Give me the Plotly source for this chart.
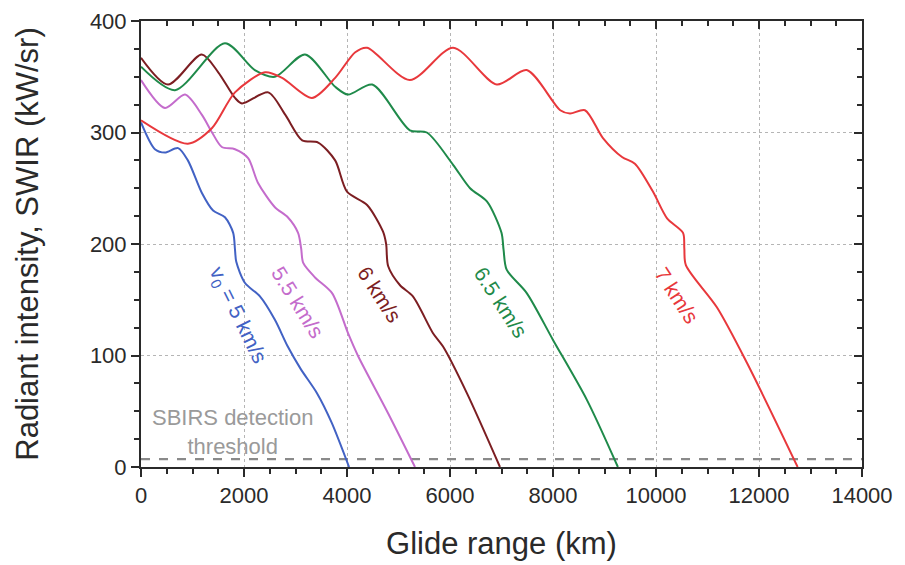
import plotly.graph_objects as go

# ---- data ----
x_5 = [0, 270, 465, 720, 910, 1180, 1400, 1630, 1790, 1825, 1850, 2020, 2310, 2600, 2850, 3100, 3420, 3700, 4040]
y_5 = [309, 285, 282, 286, 275, 246, 230, 224, 210, 195, 184, 165, 153, 132, 108, 88, 66, 40, 0]

x_55 = [0, 465, 855, 1180, 1380, 1570, 1825, 2080, 2270, 2600, 2850, 3050, 3110, 3150, 3380, 3710, 4020, 4210, 4800, 5320]
y_55 = [347, 322, 334, 316, 300, 287, 285, 277, 255, 233, 224, 210, 196, 183, 170, 156, 120, 100, 48, 0]

x_6 = [0, 525, 1180, 1500, 1825, 1960, 2470, 2800, 3130, 3440, 3770, 4000, 4390, 4700, 4760, 4800, 5030, 5280, 5670, 5865, 6330, 6970]
y_6 = [367, 343, 370, 354, 331, 326, 336, 316, 293, 291, 275, 247, 235, 211, 200, 180, 163, 153, 120, 108, 66, 0]

x_65 = [0, 660, 1630, 2210, 2600, 3185, 3770, 4020, 4490, 5220, 5550, 6060, 6390, 6720, 7000, 7040, 7100, 7490, 8000, 8660, 9260]
y_65 = [359, 338, 380, 356, 350, 370, 341, 334, 343, 302, 300, 271, 250, 238, 210, 195, 177, 156, 114, 60, 0]

x_7 = [0, 910, 1380, 1825, 2410, 2740, 3320, 3770, 4160, 4390, 5220, 6060, 6910, 7490, 8140, 8330, 8620, 8970, 9340, 9590, 9940, 10215, 10525, 10550, 10580, 11185, 11770, 12750]
y_7 = [311, 290, 304, 336, 354, 349, 331, 349, 372, 376, 347, 376, 343, 356, 320, 317, 320, 295, 278, 272, 247, 223, 210, 196, 181, 143, 93, 0]

threshold_x = [0, 14000]
threshold_y = [7, 7]

series = [
    ("v<sub>0</sub> = 5 km/s", x_5, y_5, "#4262c4", 1864, 136, 64),
    ("5.5 km/s", x_55, y_55, "#c46ccc", 3030, 148, 58),
    ("6 km/s", x_6, y_6, "#7c1e22", 4641, 155, 57),
    ("6.5 km/s", x_65, y_65, "#1f8a4a", 6972, 148, 57),
    ("7 km/s", x_7, y_7, "#e8383c", 10409, 154, 57),
]

FONT = "Liberation Sans, Arial"

fig = go.Figure()

fig.add_trace(go.Scatter(x=threshold_x, y=threshold_y, mode="lines",
                         line=dict(color="#8a8a8a", width=2.2, dash="dash"),
                         showlegend=False, hoverinfo="skip"))

for name, xs, ys, col, lx, ly, ang in series:
    fig.add_trace(go.Scatter(x=xs, y=ys, mode="lines", name=name,
                             line=dict(color=col, width=2, shape="spline", smoothing=0.8),
                             showlegend=False))
    fig.add_annotation(x=lx, y=ly, text=name, showarrow=False, textangle=ang,
                       font=dict(family=FONT, size=21, color=col))

fig.add_annotation(x=1767, y=31, text="SBIRS detection<br>threshold", showarrow=False,
                   font=dict(family=FONT, size=22, color="#9a9a9a"))

# dummy trace for mirrored axes
fig.add_trace(go.Scatter(x=[None], y=[None], xaxis="x2", yaxis="y2",
                         showlegend=False, hoverinfo="skip"))

axcol = "#2a2a2a"
common = dict(showline=True, linewidth=2, linecolor=axcol, zeroline=False,
              tickcolor=axcol, tickwidth=1.5, automargin=False,
              tickfont=dict(family=FONT, size=22, color=axcol))

fig.update_layout(
    width=905, height=565,
    margin=dict(l=141, r=43, t=21, b=98),
    plot_bgcolor="white", paper_bgcolor="white",
    xaxis=dict(range=[0, 14000], dtick=2000, tick0=0, tickformat="d", ticks="outside", ticklen=8,
               showgrid=True, gridcolor="#b5b5b5", griddash="dot", gridwidth=1,
               minor=dict(dtick=500, ticks="outside", ticklen=5, tickcolor=axcol, showgrid=False),
               title=dict(text="Glide range (km)", standoff=25,
                          font=dict(family=FONT, size=31, color=axcol)),
               **common),
    yaxis=dict(range=[0, 400], dtick=100, tick0=0, tickformat="d", ticks="outside", ticklen=8,
               showgrid=True, gridcolor="#b5b5b5", griddash="dot", gridwidth=1,
               minor=dict(dtick=25, ticks="outside", ticklen=5, tickcolor=axcol, showgrid=False),
               title=dict(text="Radiant intensity, SWIR (kW/sr)", standoff=42,
                          font=dict(family=FONT, size=31, color=axcol)),
               **common),
    xaxis2=dict(range=[0, 14000], dtick=2000, overlaying="x", side="top", anchor="y",
                ticks="inside", ticklen=8, showticklabels=False, showgrid=False,
                minor=dict(dtick=500, ticks="inside", ticklen=5, tickcolor=axcol, showgrid=False),
                **common),
    yaxis2=dict(range=[0, 400], dtick=100, overlaying="y", side="right", anchor="x",
                ticks="inside", ticklen=8, showticklabels=False, showgrid=False,
                minor=dict(dtick=25, ticks="inside", ticklen=5, tickcolor=axcol, showgrid=False),
                **common),
)

fig.write_html("out.html")
